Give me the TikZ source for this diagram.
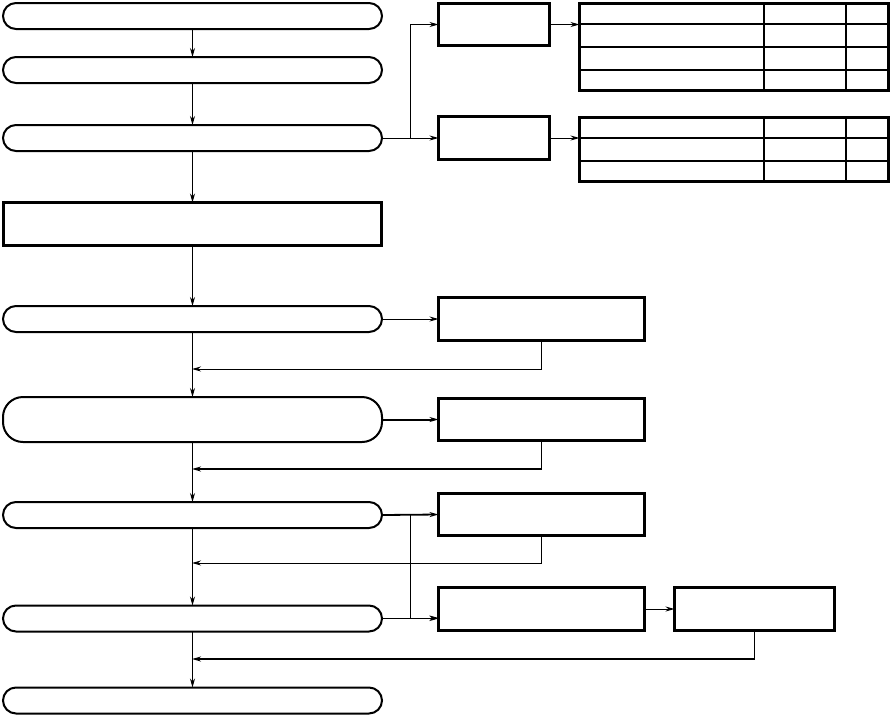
\documentclass[tikz,border=0pt]{standalone}
\usetikzlibrary{arrows.meta}
\begin{document}
\begin{tikzpicture}[x=1pt,y=-1pt,
  rbox/.style={draw,line width=2pt,rounded corners=13pt,inner sep=0,outer sep=0,minimum width=379pt,minimum height=26pt},
  sbox/.style={draw,line width=3pt,inner sep=0,outer sep=0},
  conn/.style={line width=1pt,-{Stealth[length=9pt,width=5pt]}},
  plain/.style={line width=1pt},
  thin/.style={line width=1.2pt},
  thk/.style={line width=2.4pt}]
\useasboundingbox (0,0) rectangle (892,716);
% left column
\node[rbox] (r1) at (192.5,16) {};
\node[rbox] (r2) at (192.5,70) {};
\node[rbox] (r3) at (192.5,138) {};
\node[sbox,minimum width=378pt,minimum height=43pt] (b4) at (192.5,224) {};
\node[rbox] (r5) at (192.5,319) {};
\node[rbox,rounded corners=20pt,minimum height=45pt] (r6) at (192.5,419.5) {};
\node[rbox] (r7) at (192.5,515) {};
\node[rbox] (r8) at (192.5,618.5) {};
\node[rbox] (r9) at (192.5,700.5) {};
% right boxes
\node[sbox,minimum width=111pt,minimum height=42pt] (B1) at (494,24.5) {};
\node[sbox,minimum width=111pt,minimum height=43pt] (B2) at (494,138) {};
\node[sbox,minimum width=206pt,minimum height=43pt] (B5) at (541.5,319) {};
\node[sbox,minimum width=206pt,minimum height=42pt] (B6) at (541.5,419.5) {};
\node[sbox,minimum width=206pt,minimum height=42pt] (B7) at (541.5,514.5) {};
\node[sbox,minimum width=206pt,minimum height=43pt] (B8) at (541.5,609) {};
\node[sbox,minimum width=160pt,minimum height=43pt] (B9) at (754.5,609) {};
% tables
\node[sbox,minimum width=309pt,minimum height=87pt] (T1) at (734,47) {};
\node[sbox,minimum width=309pt,minimum height=64pt] (T2) at (734,149.5) {};
\draw[thin] (578,24) -- (890,24);
\draw[thk] (578,47) -- (890,47);
\draw[thk] (578,70) -- (890,70);
\draw[thin] (764,2) -- (764,92);
\draw[thk] (846,2) -- (846,92);
\draw[thin] (578,138) -- (890,138);
\draw[thk] (578,161) -- (890,161);
\draw[thin] (764,116) -- (764,183);
\draw[thk] (846,116) -- (846,183);
% coordinates
\coordinate (j1) at (410,138);
\coordinate (j2) at (410,515);
\coordinate (f5) at (192,369);
\coordinate (f6) at (192,469);
\coordinate (f7) at (192,563);
\coordinate (f9) at (192,659);
% main flow
\draw[conn] (r1.south) -- (r2.north);
\draw[conn] (r2.south) -- (r3.north);
\draw[conn] (r3.south) -- (b4.north);
\draw[conn] (b4.south) -- (r5.north);
\draw[conn] (r5.south) -- (r6.north);
\draw[conn] (r6.south) -- (r7.north);
\draw[conn] (r7.south) -- (r8.north);
\draw[conn] (r8.south) -- (r9.north);
% top branches
\draw[plain] (r3.east) -- (j1);
\draw[conn] (j1) |- (B1.west);
\draw[conn] (j1) -- (B2.west);
\draw[conn] (B1.east) -- (T1.west |- B1.east);
\draw[conn] (B2.east) -- (T2.west |- B2.east);
% side boxes
\draw[conn] (r5.east) -- (B5.west);
\draw[conn] (B5.south) |- (f5);
\draw[conn,line width=2pt] (r6.east) -- (B6.west);
\draw[conn,line width=1.8pt] (B6.south) |- (f6);
\draw[conn,line width=1.8pt] (r7.east) -- (B7.west);
\draw[conn] (B7.south) |- (f7);
\draw[conn] (j2) |- ([yshift=-9pt]B8.west);
\draw[conn] (r8.east) -- (r8.east -| B8.west);
\draw[conn] (B8.east) -- (B9.west);
\draw[conn,line width=1.8pt] (B9.south) |- (f9);
\end{tikzpicture}
\end{document}
